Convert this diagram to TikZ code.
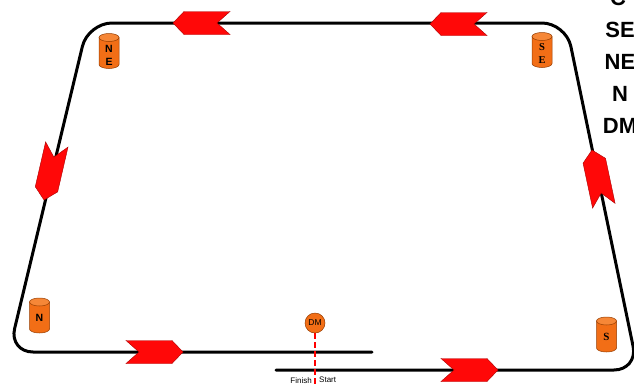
\documentclass[tikz,border=0pt]{standalone}
\usepackage{fontspec}
\setmainfont{Liberation Sans}
\newfontfamily\serifx{Liberation Serif}
\definecolor{flagred}{RGB}{255,8,8}
\definecolor{flagedge}{RGB}{170,0,0}
\definecolor{cylbody}{RGB}{242,110,22}
\definecolor{cyltop}{RGB}{246,135,55}
\definecolor{cyledge}{RGB}{150,60,0}
\newcommand\flagarrow[3]{%
  \begin{scope}[shift={(#1,#2)},rotate=#3]
    \fill[flagred,draw=flagedge,line width=0.4pt]
      (0,0) -- (-11,-11.5) -- (-57,-11.5) -- (-44,0) -- (-57,11.5) -- (-11,11.5) -- cycle;
  \end{scope}}
\newcommand\barrel[3]{%
  \node[minimum width=20pt,minimum height=35pt,inner sep=0pt] (#1) at (#2,#3) {};
  \begin{scope}[shift={(#2,#3)}]
    \filldraw[fill=cylbody,draw=cyledge,line width=0.5pt]
      (-10,-13.5) -- (-10,13.5) arc[start angle=180,end angle=0,x radius=10,y radius=4] -- (10,-13.5) -- cycle;
    \filldraw[fill=cyltop,draw=cyledge,line width=0.5pt] (0,-13.5) ellipse[x radius=10,y radius=4];
  \end{scope}}
\tikzset{
  track/.style={line width=3pt,line cap=round,rounded corners=24pt},
  lbl/.style={font=\bfseries\fontsize{10.5}{13}\selectfont,align=center,inner sep=0pt},
  legend/.style={anchor=base,font=\bfseries\fontsize{22}{22}\selectfont},
  small/.style={font=\fontsize{8}{8}\selectfont,inner sep=0pt}
}
\begin{document}
\begin{tikzpicture}[x=1pt,y=-1pt]
\useasboundingbox (0,0) rectangle (634,383);
\clip (0,0) rectangle (634,383);
% track
\coordinate (a) at (372,352);
\coordinate (b) at (276,370);
\draw[track] (a) -- (9,352) -- (88,23) -- (566,23) -- (638,370) -- (b);
% flags
\flagarrow{173}{23}{180}
\flagarrow{430}{24}{180}
\flagarrow{183}{352}{0}
\flagarrow{498}{370}{0}
\flagarrow{44}{200}{-103}
\flagarrow{592}{150}{102}
% markers
\barrel{ne}{109}{51}
\node[lbl] (net) at (109,55) {N\\E};
\barrel{se}{542}{50}
\node[lbl,font=\serifx\bfseries\fontsize{10.5}{13}\selectfont] (set) at (542,54) {S\\E};
\barrel{n}{39.5}{315.5}
\node[lbl] (nt) at (39.5,318) {N};
\barrel{s}{606.5}{334.5}
\node[lbl,font=\serifx\bfseries\fontsize{11}{11}\selectfont] (st) at (606.5,337) {S};
\node[circle,draw=cyledge,fill=cylbody,line width=0.5pt,minimum size=20pt,inner sep=0pt,
  font=\fontsize{8.5}{9}\selectfont] (dm) at (315,323) {DM};
\coordinate (dmend) at (315,390);
\draw[red,line width=1.6pt,dash pattern=on 6pt off 3pt] (dm.south) -- (dmend);
\node[small,anchor=north east] (fin) at (312,377) {Finish};
\node[small,anchor=north west] (sta) at (319,377) {Start};
% legend
\node[legend] (l0) at (618,5) {C};
\node[legend] (l1) at (620,37) {SE};
\node[legend] (l2) at (620,69) {NE};
\node[legend] (l3) at (620,101) {N};
\node[legend] (l4) at (620,133) {DM};
\end{tikzpicture}
\end{document}
